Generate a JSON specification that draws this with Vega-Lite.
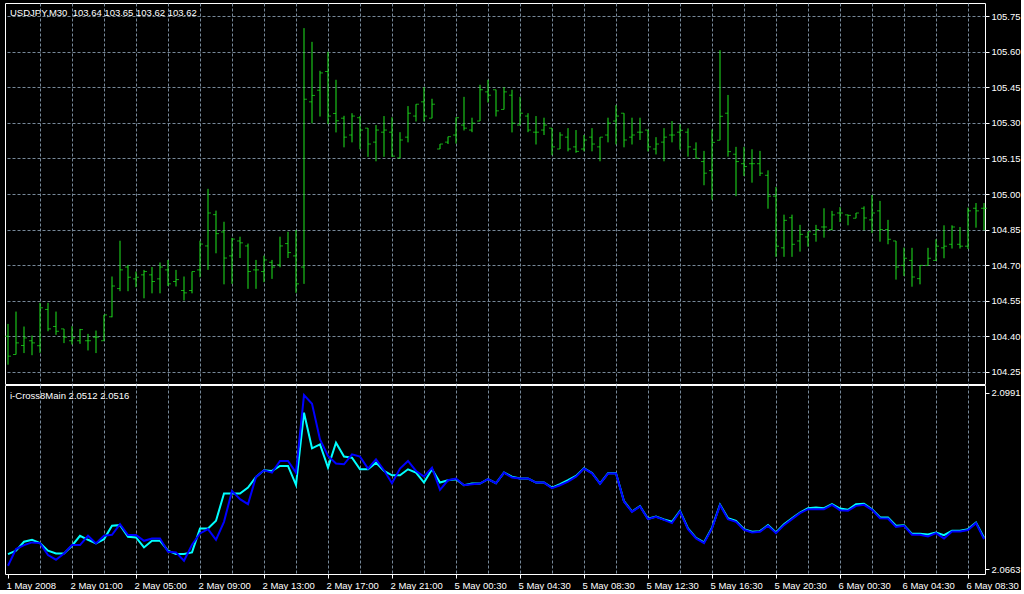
{
  "$schema": "https://vega.github.io/schema/vega-lite/v6.json",
  "background": "#000000",
  "padding": {"left": 3, "top": 2, "right": 0, "bottom": 0},
  "spacing": -2,
  "config": {
    "view": {"stroke": "#ffffff", "strokeWidth": 1},
    "axis": {
      "labelColor": "#ffffff",
      "labelFont": "Liberation Sans",
      "labelFontSize": 9.5,
      "tickColor": "#ffffff",
      "tickSize": 4,
      "tickCount": 200,
      "gridColor": "#778899",
      "gridDash": [3, 2],
      "gridWidth": 1,
      "gridOpacity": 1,
      "domain": false,
      "labelOverlap": false,
      "title": null
    },
    "title": {"color": "#ffffff", "font": "Liberation Sans", "fontSize": 9.5, "fontWeight": "normal", "anchor": "start", "frame": "group"}
  },
  "datasets": {
    "bars": [
      {"i":1,"o":104.40,"h":104.452,"l":104.28,"c":104.316,"b":2.06691,"a":2.06908},
      {"i":2,"o":104.323,"h":104.504,"l":104.323,"c":104.372,"b":2.07001,"a":2.0697},
      {"i":3,"o":104.361,"h":104.441,"l":104.329,"c":104.393,"b":2.07075,"a":2.07137},
      {"i":4,"o":104.381,"h":104.403,"l":104.32,"c":104.372,"b":2.07125,"a":2.07174},
      {"i":5,"o":104.36,"h":104.541,"l":104.33,"c":104.52,"b":2.07112,"a":2.07112},
      {"i":6,"o":104.513,"h":104.541,"l":104.421,"c":104.431,"b":2.06889,"a":2.0697},
      {"i":7,"o":104.441,"h":104.504,"l":104.406,"c":104.421,"b":2.06803,"a":2.0692},
      {"i":8,"o":104.431,"h":104.431,"l":104.371,"c":104.396,"b":2.0692,"a":2.0692},
      {"i":9,"o":104.381,"h":104.442,"l":104.365,"c":104.393,"b":2.07075,"a":2.07063},
      {"i":10,"o":104.381,"h":104.431,"l":104.368,"c":104.428,"b":2.07075,"a":2.07248},
      {"i":11,"o":104.381,"h":104.41,"l":104.34,"c":104.381,"b":2.07248,"a":2.07174},
      {"i":12,"o":104.396,"h":104.424,"l":104.329,"c":104.396,"b":2.07106,"a":2.07106},
      {"i":13,"o":104.381,"h":104.49,"l":104.381,"c":104.49,"b":2.07248,"a":2.07186},
      {"i":14,"o":104.482,"h":104.652,"l":104.48,"c":104.612,"b":2.07267,"a":2.07434},
      {"i":15,"o":104.601,"h":104.803,"l":104.59,"c":104.68,"b":2.07465,"a":2.07446},
      {"i":16,"o":104.692,"h":104.701,"l":104.59,"c":104.649,"b":2.07261,"a":2.0723},
      {"i":17,"o":104.642,"h":104.673,"l":104.607,"c":104.649,"b":2.07261,"a":2.07217},
      {"i":18,"o":104.659,"h":104.68,"l":104.56,"c":104.673,"b":2.07155,"a":2.07032},
      {"i":19,"o":104.659,"h":104.692,"l":104.581,"c":104.631,"b":2.07199,"a":2.07155},
      {"i":20,"o":104.642,"h":104.711,"l":104.581,"c":104.692,"b":2.07199,"a":2.07155},
      {"i":21,"o":104.68,"h":104.722,"l":104.612,"c":104.621,"b":2.06951,"a":2.0697},
      {"i":22,"o":104.631,"h":104.68,"l":104.61,"c":104.639,"b":2.06939,"a":2.06908},
      {"i":23,"o":104.593,"h":104.652,"l":104.551,"c":104.583,"b":2.06784,"a":2.06908},
      {"i":24,"o":104.593,"h":104.673,"l":104.581,"c":104.673,"b":2.07081,"a":2.06939},
      {"i":25,"o":104.68,"h":104.803,"l":104.649,"c":104.789,"b":2.07292,"a":2.07385},
      {"i":26,"o":104.781,"h":105.022,"l":104.68,"c":104.92,"b":2.07372,"a":2.07385},
      {"i":27,"o":104.913,"h":104.93,"l":104.75,"c":104.833,"b":2.07174,"a":2.07527},
      {"i":28,"o":104.84,"h":104.883,"l":104.619,"c":104.73,"b":2.07508,"a":2.08034},
      {"i":29,"o":104.739,"h":104.815,"l":104.621,"c":104.81,"b":2.08084,"a":2.08034},
      {"i":30,"o":104.802,"h":104.82,"l":104.73,"c":104.794,"b":2.07929,"a":2.08034},
      {"i":31,"o":104.781,"h":104.791,"l":104.6,"c":104.673,"b":2.07836,"a":2.08146},
      {"i":32,"o":104.68,"h":104.722,"l":104.6,"c":104.68,"b":2.08344,"a":2.08344},
      {"i":33,"o":104.673,"h":104.74,"l":104.628,"c":104.722,"b":2.08468,"a":2.08468},
      {"i":34,"o":104.712,"h":104.722,"l":104.642,"c":104.692,"b":2.08424,"a":2.08455},
      {"i":35,"o":104.701,"h":104.82,"l":104.691,"c":104.781,"b":2.08641,"a":2.08548},
      {"i":36,"o":104.791,"h":104.841,"l":104.73,"c":104.753,"b":2.08641,"a":2.08548},
      {"i":37,"o":104.739,"h":104.848,"l":104.583,"c":104.621,"b":2.08424,"a":2.08195},
      {"i":38,"o":104.692,"h":105.70,"l":104.621,"c":105.40,"b":2.09867,"a":2.09539},
      {"i":39,"o":105.389,"h":105.642,"l":105.298,"c":105.416,"b":2.09706,"a":2.08876},
      {"i":40,"o":105.438,"h":105.52,"l":105.327,"c":105.511,"b":2.09043,"a":2.08951},
      {"i":41,"o":105.517,"h":105.60,"l":105.295,"c":105.329,"b":2.08734,"a":2.08517},
      {"i":42,"o":105.34,"h":105.482,"l":105.26,"c":105.309,"b":2.08592,"a":2.08982},
      {"i":43,"o":105.32,"h":105.33,"l":105.197,"c":105.24,"b":2.08579,"a":2.08722},
      {"i":44,"o":105.249,"h":105.341,"l":105.218,"c":105.329,"b":2.08765,"a":2.08703},
      {"i":45,"o":105.322,"h":105.329,"l":105.189,"c":105.27,"b":2.08722,"a":2.08486},
      {"i":46,"o":105.278,"h":105.278,"l":105.157,"c":105.211,"b":2.08499,"a":2.08486},
      {"i":47,"o":105.219,"h":105.291,"l":105.138,"c":105.27,"b":2.08672,"a":2.0861},
      {"i":48,"o":105.261,"h":105.329,"l":105.157,"c":105.27,"b":2.08468,"a":2.08455},
      {"i":49,"o":105.261,"h":105.324,"l":105.157,"c":105.16,"b":2.08226,"a":2.08375},
      {"i":50,"o":105.152,"h":105.261,"l":105.152,"c":105.228,"b":2.08499,"a":2.08375},
      {"i":51,"o":105.24,"h":105.371,"l":105.218,"c":105.341,"b":2.08641,"a":2.08486},
      {"i":52,"o":105.329,"h":105.379,"l":105.306,"c":105.379,"b":2.08455,"a":2.08424},
      {"i":53,"o":105.389,"h":105.451,"l":105.306,"c":105.329,"b":2.0835,"a":2.08239},
      {"i":54,"o":105.32,"h":105.402,"l":105.32,"c":105.379,"b":2.08517,"a":2.08486},
      {"i":55,"o":105.19,"h":105.211,"l":105.19,"c":105.211,"b":2.08103,"a":2.08239},
      {"i":56,"o":105.219,"h":105.242,"l":105.211,"c":105.242,"b":2.08282,"a":2.08282},
      {"i":57,"o":105.249,"h":105.323,"l":105.213,"c":105.322,"b":2.08313,"a":2.08301},
      {"i":58,"o":105.291,"h":105.41,"l":105.268,"c":105.278,"b":2.08189,"a":2.08189},
      {"i":59,"o":105.27,"h":105.322,"l":105.261,"c":105.299,"b":2.08208,"a":2.0822},
      {"i":60,"o":105.308,"h":105.461,"l":105.308,"c":105.44,"b":2.0822,"a":2.0822},
      {"i":61,"o":105.431,"h":105.482,"l":105.386,"c":105.417,"b":2.08301,"a":2.08301},
      {"i":62,"o":105.44,"h":105.44,"l":105.327,"c":105.351,"b":2.08226,"a":2.08226},
      {"i":63,"o":105.357,"h":105.451,"l":105.357,"c":105.431,"b":2.08424,"a":2.08424},
      {"i":64,"o":105.417,"h":105.44,"l":105.26,"c":105.299,"b":2.08332,"a":2.0835},
      {"i":65,"o":105.291,"h":105.41,"l":105.291,"c":105.341,"b":2.08313,"a":2.08313},
      {"i":66,"o":105.329,"h":105.341,"l":105.261,"c":105.27,"b":2.08313,"a":2.08313},
      {"i":67,"o":105.261,"h":105.329,"l":105.209,"c":105.261,"b":2.08239,"a":2.08239},
      {"i":68,"o":105.27,"h":105.322,"l":105.249,"c":105.291,"b":2.08239,"a":2.08239},
      {"i":69,"o":105.278,"h":105.278,"l":105.164,"c":105.199,"b":2.08134,"a":2.08146},
      {"i":70,"o":105.19,"h":105.261,"l":105.19,"c":105.249,"b":2.08189,"a":2.08208},
      {"i":71,"o":105.24,"h":105.278,"l":105.18,"c":105.19,"b":2.08257,"a":2.08282},
      {"i":72,"o":105.199,"h":105.27,"l":105.174,"c":105.18,"b":2.0835,"a":2.08362},
      {"i":73,"o":105.19,"h":105.249,"l":105.18,"c":105.228,"b":2.08499,"a":2.08505},
      {"i":74,"o":105.24,"h":105.278,"l":105.18,"c":105.211,"b":2.08412,"a":2.08418},
      {"i":75,"o":105.199,"h":105.24,"l":105.138,"c":105.24,"b":2.08214,"a":2.0822},
      {"i":76,"o":105.249,"h":105.322,"l":105.218,"c":105.299,"b":2.08406,"a":2.08412},
      {"i":77,"o":105.308,"h":105.375,"l":105.209,"c":105.329,"b":2.08406,"a":2.08412},
      {"i":78,"o":105.341,"h":105.341,"l":105.197,"c":105.228,"b":2.07886,"a":2.07892},
      {"i":79,"o":105.24,"h":105.322,"l":105.209,"c":105.249,"b":2.07694,"a":2.077},
      {"i":80,"o":105.261,"h":105.322,"l":105.228,"c":105.261,"b":2.07793,"a":2.07799},
      {"i":81,"o":105.27,"h":105.27,"l":105.18,"c":105.199,"b":2.07558,"a":2.07564},
      {"i":82,"o":105.19,"h":105.24,"l":105.167,"c":105.211,"b":2.07601,"a":2.07607},
      {"i":83,"o":105.219,"h":105.278,"l":105.138,"c":105.24,"b":2.07545,"a":2.07551},
      {"i":84,"o":105.249,"h":105.308,"l":105.218,"c":105.249,"b":2.07484,"a":2.07508},
      {"i":85,"o":105.261,"h":105.294,"l":105.187,"c":105.269,"b":2.077,"a":2.07712},
      {"i":86,"o":105.261,"h":105.277,"l":105.158,"c":105.199,"b":2.07372,"a":2.07385},
      {"i":87,"o":105.189,"h":105.218,"l":105.151,"c":105.151,"b":2.07199,"a":2.07211},
      {"i":88,"o":105.137,"h":105.182,"l":105.037,"c":105.088,"b":2.07112,"a":2.07124},
      {"i":89,"o":105.099,"h":105.272,"l":104.976,"c":105.218,"b":2.07385,"a":2.07397},
      {"i":90,"o":105.227,"h":105.607,"l":105.227,"c":105.328,"b":2.07818,"a":2.0783},
      {"i":91,"o":105.341,"h":105.418,"l":105.158,"c":105.179,"b":2.07558,"a":2.07576},
      {"i":92,"o":105.168,"h":105.199,"l":104.991,"c":105.137,"b":2.07508,"a":2.07527},
      {"i":93,"o":105.128,"h":105.199,"l":105.076,"c":105.116,"b":2.0736,"a":2.07372},
      {"i":94,"o":105.128,"h":105.189,"l":105.048,"c":105.128,"b":2.0731,"a":2.07323},
      {"i":95,"o":105.128,"h":105.182,"l":105.076,"c":105.088,"b":2.07323,"a":2.07335},
      {"i":96,"o":105.079,"h":105.10,"l":104.938,"c":104.991,"b":2.07434,"a":2.07446},
      {"i":97,"o":104.991,"h":105.03,"l":104.735,"c":104.78,"b":2.07298,"a":2.0731},
      {"i":98,"o":104.773,"h":104.913,"l":104.735,"c":104.889,"b":2.07446,"a":2.07465},
      {"i":99,"o":104.90,"h":104.913,"l":104.735,"c":104.788,"b":2.07558,"a":2.07576},
      {"i":100,"o":104.802,"h":104.87,"l":104.757,"c":104.83,"b":2.07669,"a":2.07682},
      {"i":101,"o":104.819,"h":104.841,"l":104.778,"c":104.841,"b":2.07744,"a":2.07762},
      {"i":102,"o":104.83,"h":104.87,"l":104.799,"c":104.85,"b":2.07744,"a":2.07774},
      {"i":103,"o":104.861,"h":104.94,"l":104.816,"c":104.861,"b":2.07744,"a":2.07762},
      {"i":104,"o":104.85,"h":104.929,"l":104.847,"c":104.912,"b":2.07824,"a":2.07836},
      {"i":105,"o":104.92,"h":104.945,"l":104.882,"c":104.92,"b":2.07725,"a":2.07756},
      {"i":106,"o":104.912,"h":104.913,"l":104.868,"c":104.91,"b":2.07713,"a":2.07731},
      {"i":107,"o":104.898,"h":104.92,"l":104.898,"c":104.92,"b":2.07805,"a":2.07836},
      {"i":108,"o":104.94,"h":104.948,"l":104.847,"c":104.899,"b":2.07824,"a":2.07843},
      {"i":109,"o":104.891,"h":104.996,"l":104.836,"c":104.92,"b":2.07731,"a":2.07744},
      {"i":110,"o":104.929,"h":104.971,"l":104.799,"c":104.85,"b":2.07576,"a":2.07595},
      {"i":111,"o":104.85,"h":104.891,"l":104.788,"c":104.809,"b":2.0757,"a":2.07589},
      {"i":112,"o":104.802,"h":104.802,"l":104.639,"c":104.692,"b":2.07415,"a":2.07434},
      {"i":113,"o":104.699,"h":104.774,"l":104.654,"c":104.729,"b":2.07434,"a":2.07446},
      {"i":114,"o":104.72,"h":104.773,"l":104.609,"c":104.65,"b":2.07267,"a":2.07285},
      {"i":115,"o":104.643,"h":104.699,"l":104.619,"c":104.699,"b":2.07267,"a":2.07285},
      {"i":116,"o":104.699,"h":104.773,"l":104.699,"c":104.729,"b":2.07236,"a":2.07273},
      {"i":117,"o":104.72,"h":104.809,"l":104.718,"c":104.78,"b":2.07298,"a":2.0731},
      {"i":118,"o":104.773,"h":104.868,"l":104.729,"c":104.78,"b":2.07199,"a":2.07261},
      {"i":119,"o":104.788,"h":104.868,"l":104.77,"c":104.861,"b":2.07329,"a":2.07341},
      {"i":120,"o":104.788,"h":104.861,"l":104.77,"c":104.78,"b":2.07329,"a":2.07341},
      {"i":121,"o":104.78,"h":104.943,"l":104.768,"c":104.929,"b":2.07354,"a":2.07372},
      {"i":122,"o":104.94,"h":104.962,"l":104.858,"c":104.929,"b":2.07484,"a":2.07496},
      {"i":123,"o":104.94,"h":104.962,"l":104.847,"c":104.94,"b":2.07186,"a":2.07211}
    ]
  },
  "vconcat": [
    {
      "width": 980,
      "height": 381,
      "title": {"text": "USDJPY,M30\u00a0\u00a0103.64 103.65 103.62 103.62", "offset": -14, "dx": 5},
      "data": {"name": "bars"},
      "encoding": {
        "x": {
          "field": "i", "type": "quantitative",
          "scale": {"domain": [0.625, 123.125], "nice": false, "zero": false},
          "axis": {"values": [5,9,13,17,21,25,29,33,37,41,45,49,53,57,61,65,69,73,77,81,85,89,93,97,101,105,109,113,117,121], "labels": false, "ticks": false, "grid": true}
        }
      },
      "layer": [
        {
          "mark": {"type": "rule", "color": "#1ee61e", "strokeWidth": 1},
          "encoding": {
            "y": {
              "field": "l", "type": "quantitative",
              "scale": {"domain": [104.1985, 105.806], "nice": false, "zero": false},
              "axis": {"orient": "right", "values": [104.25,104.4,104.55,104.7,104.85,105.0,105.15,105.3,105.45,105.6,105.75], "format": ".2f", "grid": true, "labelPadding": 2, "labelBaseline": "middle"}
            },
            "y2": {"field": "h"}
          }
        },
        {
          "mark": {"type": "tick", "orient": "horizontal", "color": "#1ee61e", "size": 3, "thickness": 1, "xOffset": -1.5},
          "encoding": {"y": {"field": "o", "type": "quantitative"}}
        },
        {
          "mark": {"type": "tick", "orient": "horizontal", "color": "#1ee61e", "size": 3, "thickness": 1, "xOffset": 1.5},
          "encoding": {"y": {"field": "c", "type": "quantitative"}}
        }
      ]
    },
    {
      "width": 980,
      "height": 189,
      "title": {"text": "i-Cross8Main 2.0512 2.0516", "offset": -15, "dx": 5},
      "data": {"name": "bars"},
      "encoding": {
        "x": {
          "field": "i", "type": "quantitative",
          "scale": {"domain": [0.625, 123.125], "nice": false, "zero": false},
          "axis": {
            "values": [1,5,9,13,17,21,25,29,33,37,41,45,49,53,57,61,65,69,73,77,81,85,89,93,97,101,105,109,113,117,121],
            "grid": true,
            "gridOpacity": {"condition": {"test": "datum.value == 1", "value": 0}, "value": 1},
            "tickOpacity": {"condition": {"test": "(datum.value - 1) % 8 == 0", "value": 1}, "value": 0},
            "labelExpr": "(datum.value - 1) % 8 == 0 ? ['1 May 2008','2 May 01:00','2 May 05:00','2 May 09:00','2 May 13:00','2 May 17:00','2 May 21:00','5 May 00:30','5 May 04:30','5 May 08:30','5 May 12:30','5 May 16:30','5 May 20:30','6 May 00:30','6 May 04:30','6 May 08:30'][(datum.value - 1) / 8] : ''",
            "labelAlign": "left",
            "labelBaseline": "top",
            "labelPadding": 2,
            "labelOffset": -2,
            "labelFlush": false,
            "labelBound": false
          }
        }
      },
      "layer": [
        {
          "mark": {"type": "line", "color": "#00ffff", "strokeWidth": 2, "strokeJoin": "miter"},
          "encoding": {
            "y": {
              "field": "a", "type": "quantitative",
              "scale": {"domain": [2.06537, 2.10055], "nice": false, "zero": false},
              "axis": {"orient": "right", "values": [2.0663, 2.0991], "format": ".4f", "grid": false, "labelPadding": 2, "labelBaseline": "middle"}
            }
          }
        },
        {
          "mark": {"type": "line", "color": "#0000ff", "strokeWidth": 2, "strokeJoin": "miter"},
          "encoding": {"y": {"field": "b", "type": "quantitative"}}
        }
      ]
    }
  ]
}
